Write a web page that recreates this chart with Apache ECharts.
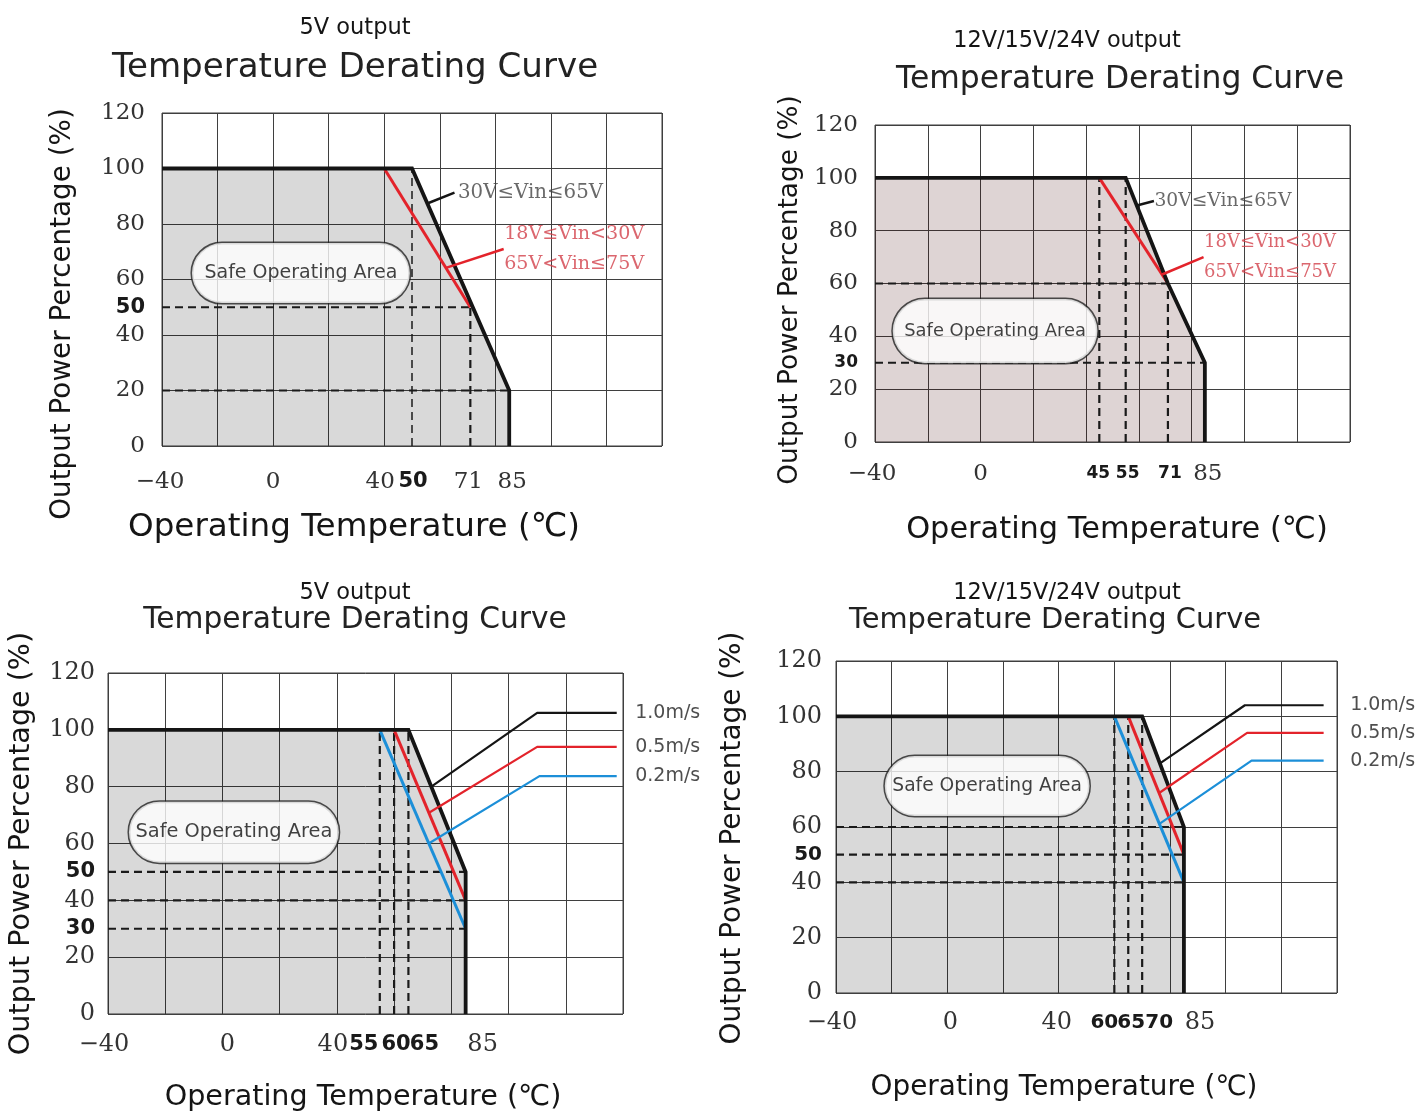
<!DOCTYPE html>
<html>
<head>
<meta charset="utf-8">
<title>Temperature Derating Curve</title>
<script src="https://cdn.jsdelivr.net/npm/echarts@6.0.0/dist/echarts.min.js"></script>
<style>
html,body{margin:0;padding:0;background:#ffffff;}
#chart{width:1418px;height:1115px;}
</style>
</head>
<body>
<div id="chart"></div>
<script>
// ================= DATA =================
const TITLE_TOP = ['5V output', '12V/15V/24V output', '5V output', '12V/15V/24V output'];
const TITLE_MAIN = 'Temperature Derating Curve';
const X_NAME = 'Operating Temperature (℃)';
const Y_NAME = 'Output Power Percentage (%)';
const SOA_TEXT = 'Safe Operating Area';
const VIN_BLACK_TEXT = '30V≤Vin≤65V';
const VIN_RED_TEXT = ['18V≤Vin<30V', '65V<Vin≤75V'];
const AIRFLOW_TEXT = ['1.0m/s', '0.5m/s', '0.2m/s'];

// Panel 1 : 5V output, derating by input voltage
const P1_X_TICKS = [-40, 0, 40, 50, 71, 85];
const P1_Y_TICKS = [0, 20, 40, 50, 60, 80, 100, 120];
const P1_CURVE = [[-40, 100], [50, 100], [85, 20], [85, 0]];
const P1_RED = [[40, 100], [71, 50]];
const P1_DASH_H = [[50, 71], [20, 85]];          // [y, x end]
const P1_DASH_V = [[50, 100], [71, 50]];         // [x, y end]
const P1_LEAD_BLACK = [[55.5, 87.4], [65.3, 91.3]];
const P1_LEAD_RED = [[62.2, 64.2], [83, 71]];
const P1_SOA = [10, 62.3];

// Panel 2 : 12V/15V/24V output, derating by input voltage
const P2_X_TICKS = [-40, 0, 45, 55, 71, 85];
const P2_Y_TICKS = [0, 20, 30, 40, 60, 80, 100, 120];
const P2_CURVE = [[-40, 100], [55, 100], [71, 60], [85, 30], [85, 0]];
const P2_RED = [[45, 100], [71, 60]];
const P2_DASH_H = [[60, 71], [30, 85]];
const P2_DASH_V = [[45, 100], [55, 100], [71, 60]];
const P2_LEAD_BLACK = [[59.2, 89.5], [65.7, 91.2]];
const P2_LEAD_RED = [[68.8, 63.4], [84.5, 70]];
const P2_SOA = [5.5, 42];

// Panel 3 : 5V output, derating by airflow
const P3_X_TICKS = [-40, 0, 40, 55, 60, 65, 85];
const P3_Y_TICKS = [0, 20, 30, 40, 50, 60, 80, 100, 120];
const P3_CURVE = [[-40, 100], [65, 100], [85, 50], [85, 0]];
const P3_RED = [[60, 100], [85, 40]];
const P3_BLUE = [[55, 100], [85, 30]];
const P3_DASH_H = [[50, 85], [40, 85], [30, 85]];
const P3_DASH_V = [[55, 100], [60, 100], [65, 100]];
const P3_AIR_BLACK = [[73, 80], [110, 106], [137.8, 106]];
const P3_AIR_RED = [[72.2, 70.8], [110, 94], [137.8, 94]];
const P3_AIR_BLUE = [[72.1, 60], [110.8, 83.7], [137.8, 83.7]];
const P3_SOA = [4, 64];

// Panel 4 : 12V/15V/24V output, derating by airflow
const P4_X_TICKS = [-40, 0, 40, 60, 65, 70, 85];
const P4_Y_TICKS = [0, 20, 40, 50, 60, 80, 100, 120];
const P4_CURVE = [[-40, 100], [70, 100], [85, 60], [85, 0]];
const P4_RED = [[65, 100], [85, 50]];
const P4_BLUE = [[60, 100], [85, 40]];
const P4_DASH_H = [[60, 85], [50, 85], [40, 85]];
const P4_DASH_V = [[60, 100], [65, 100], [70, 100]];
const P4_AIR_BLACK = [[76.4, 83], [106.9, 104], [135.2, 104]];
const P4_AIR_RED = [[76.1, 72.3], [107.7, 94], [135.2, 94]];
const P4_AIR_BLUE = [[76.2, 61.1], [109.3, 84], [135.2, 84]];
const P4_SOA = [14.3, 74.8];

// ================= LAYOUT & STYLE =================
const SANS = '"DejaVu Sans", sans-serif';
const SERIF = '"DejaVu Serif", serif';
const INK = '#151515';
const RED = '#e3232b';
const BLUE = '#1c8fd8';
const GRID_C = '#3f3f3f';
const RED_TXT = '#d2404a';

const measureCtx = document.createElement('canvas').getContext('2d');
function fit(text, width, family, weight) {
  measureCtx.font = (weight || 'normal') + ' 100px ' + family;
  return +(100 * width / measureCtx.measureText(text).width).toFixed(1);
}

const PANELS = [
  {
    grid: {left: 162, top: 113, width: 500, height: 333},
    xTicks: P1_X_TICKS, yTicks: P1_Y_TICKS,
    xSpec: {'-40': ['n', -2], '40': ['n', -4], '50': ['s', 1], '71': ['n', -2], '85': ['n', 3]},
    ySpec: {'50': ['s', 0]},
    sSize: 21, nSize: 23, xMargin: 21, yMargin: 17,
    title: {x: 350, y1: 23, y2: 63, w1: 111, w2: 486},
    xName: {w: 452, gap: 82, shift: -58}, yName: {w: 412, gap: 99, shift: 34.5},
    curve: P1_CURVE, fill: 'rgba(0,0,0,0.15)',
    colored: [[P1_RED, RED]],
    dashH: P1_DASH_H, dashV: P1_DASH_V, dashVWidth: [1.5, 2.2],
    soa: P1_SOA, soaBox: {w: 218, h: 60, tw: 193},
    vin: {black: P1_LEAD_BLACK, red: P1_LEAD_RED, bw: 145, rw: 140, bDist: 3, rDist: 0}
  },
  {
    grid: {left: 875, top: 125, width: 475, height: 317},
    xTicks: P2_X_TICKS, yTicks: P2_Y_TICKS,
    xSpec: {'-40': ['n', -3], '45': ['s', -1], '55': ['s', 2], '71': ['s', 2], '85': ['n', 3]},
    ySpec: {'30': ['s', 0]},
    sSize: 17, nSize: 23, xMargin: 17, yMargin: 17,
    title: {x: 1062, x2: 1115, y1: 36, y2: 75, w1: 228, w2: 448},
    xName: {w: 422, gap: 88, shift: 4.5}, yName: {w: 390, gap: 85, shift: 6.5},
    curve: P2_CURVE, fill: 'rgba(60,0,0,0.17)',
    colored: [[P2_RED, RED]],
    dashH: P2_DASH_H, dashV: P2_DASH_V, dashVWidth: [2.2, 2.2, 2.2],
    soa: P2_SOA, soaBox: {w: 205, h: 64, tw: 182},
    vin: {black: P2_LEAD_BLACK, red: P2_LEAD_RED, bw: 137, rw: 132, bDist: 0, rDist: 0}
  },
  {
    grid: {left: 108, top: 673, width: 515, height: 341},
    xTicks: P3_X_TICKS, yTicks: P3_Y_TICKS,
    xSpec: {'-40': ['n', -4], '0': ['n', 5], '40': ['n', -4], '55': ['s', -16], '60': ['s', 2], '65': ['s', 16], '85': ['n', 17]},
    ySpec: {'50': ['s', 0], '30': ['s', 0]},
    sSize: 21, nSize: 24, xMargin: 16, yMargin: 13,
    title: {x: 350, y1: 588, y2: 615, w1: 111, w2: 424},
    xName: {w: 397, gap: 84, shift: -2.5}, yName: {w: 423, gap: 86, shift: 0},
    curve: P3_CURVE, fill: 'rgba(0,0,0,0.15)',
    colored: [[P3_RED, RED], [P3_BLUE, BLUE]],
    dashH: P3_DASH_H, dashV: P3_DASH_V, dashVWidth: [2.2, 2.2, 2.2],
    soa: P3_SOA, soaBox: {w: 210, h: 61, tw: 197},
    air: {lines: [P3_AIR_BLACK, P3_AIR_RED, P3_AIR_BLUE], dist: 18, w: 65}
  },
  {
    grid: {left: 836, top: 661, width: 501, height: 332},
    xTicks: P4_X_TICKS, yTicks: P4_Y_TICKS,
    xSpec: {'-40': ['n', -4], '0': ['n', 3], '40': ['n', -2], '60': ['s', -10], '65': ['s', 3], '70': ['s', 17], '85': ['n', 16]},
    ySpec: {'50': ['s', 0]},
    sSize: 20, nSize: 24, xMargin: 15, yMargin: 14,
    title: {x: 1062, x2: 1050, y1: 588, y2: 615, w1: 228, w2: 413},
    xName: {w: 387, gap: 95, shift: -22.5}, yName: {w: 413, gap: 103, shift: 11},
    curve: P4_CURVE, fill: 'rgba(0,0,0,0.15)',
    colored: [[P4_RED, RED], [P4_BLUE, BLUE]],
    dashH: P4_DASH_H, dashV: P4_DASH_V, dashVWidth: [2.2, 2.2, 2.2],
    soa: P4_SOA, soaBox: {w: 205, h: 60, tw: 190},
    air: {lines: [P4_AIR_BLACK, P4_AIR_RED, P4_AIR_BLUE], dist: 26, w: 65}
  }
];

function fmtNum(v) { return v < 0 ? '\u2212' + (-v) : String(v); }

// sentinel (empty) labels at both ends keep ECharts from hiding crowded neighbours
function makeAxisLabel(values, spec, p, margin, lo, hi) {
  const richStyles = {};
  values.forEach((v, k) => {
    const sp = spec[String(v)] || ['n', 0];
    const st = sp[0] === 's'
      ? {fontFamily: SANS, fontWeight: 'bold', fontSize: p.sSize, color: '#1a1a1a'}
      : {fontFamily: SERIF, fontSize: p.nSize, color: '#333333'};
    st.lineHeight = 30;
    if (sp[1] > 0) st.padding = [0, 0, 0, 2 * sp[1]];
    else if (sp[1] < 0) st.padding = [0, -2 * sp[1], 0, 0];
    richStyles['v' + k] = st;
  });
  const cv = values.slice();
  if (cv.indexOf(hi) < 0) cv.push(hi);
  return {
    show: true,
    customValues: cv,
    margin: margin,
    hideOverlap: false,
    showMinLabel: true,
    showMaxLabel: null,
    formatter: function (val) {
      const k = values.indexOf(val);
      if (k < 0) return '';
      return '{v' + k + '|' + fmtNum(val) + '}';
    },
    rich: richStyles
  };
}

const grids = [], xAxes = [], yAxes = [], titles = [], series = [];

PANELS.forEach((p, i) => {
  grids.push(Object.assign({show: true, borderColor: GRID_C, borderWidth: 1, backgroundColor: 'transparent'}, p.grid));

  const xNameSize = fit(X_NAME, p.xName.w, SANS);
  const yNameSize = fit(Y_NAME, p.yName.w, SANS);
  const xs = p.xName.shift, ys = p.yName.shift;

  xAxes.push({
    type: 'value', gridIndex: i, min: -40, max: 140, interval: 20,
    axisLine: {show: false}, axisTick: {show: false},
    splitLine: {show: true, lineStyle: {color: GRID_C, width: 1}},
    axisLabel: makeAxisLabel(p.xTicks, p.xSpec, p, p.xMargin, -40, 140),
    name: X_NAME, nameLocation: 'middle', nameGap: p.xName.gap,
    nameTextStyle: {
      fontFamily: SANS, fontSize: xNameSize, color: INK, verticalAlign: 'middle',
      padding: xs < 0 ? [0, -2 * xs, 0, 0] : [0, 0, 0, 2 * xs]
    }
  });
  yAxes.push({
    type: 'value', gridIndex: i, min: 0, max: 120, interval: 20,
    axisLine: {show: false}, axisTick: {show: false},
    splitLine: {show: true, lineStyle: {color: GRID_C, width: 1}},
    axisLabel: makeAxisLabel(p.yTicks, p.ySpec, p, p.yMargin, 0, 120),
    name: Y_NAME, nameLocation: 'middle', nameGap: p.yName.gap, nameRotate: 90,
    nameTextStyle: {
      fontFamily: SANS, fontSize: yNameSize, color: INK, verticalAlign: 'middle',
      padding: ys > 0 ? [0, 2 * ys, 0, 0] : [0, 0, 0, -2 * ys]
    }
  });

  titles.push({
    text: TITLE_TOP[i], left: p.title.x, top: p.title.y1,
    textAlign: 'center', textVerticalAlign: 'middle',
    textStyle: {fontFamily: SANS, fontWeight: 'normal', color: INK, fontSize: fit(TITLE_TOP[i], p.title.w1, SANS)}
  });
  titles.push({
    text: TITLE_MAIN, left: p.title.x2 || p.title.x, top: p.title.y2,
    textAlign: 'center', textVerticalAlign: 'middle',
    textStyle: {fontFamily: SANS, fontWeight: 'normal', color: '#222', fontSize: fit(TITLE_MAIN, p.title.w2, SANS)}
  });

  const ax = {xAxisIndex: i, yAxisIndex: i};

  // grey safe-operating fill
  series.push(Object.assign({
    type: 'line', name: 'fill' + i, data: p.curve, symbol: 'none', silent: true,
    lineStyle: {width: 0}, areaStyle: {color: p.fill, opacity: 1}, z: 2
  }, ax));

  // dashed reference lines
  p.dashH.forEach(d => {
    series.push(Object.assign({
      type: 'line', data: [[-40, d[0]], [d[1], d[0]]], symbol: 'none', silent: true,
      lineStyle: {color: '#1a1a1a', width: 2.2, type: [8, 5]}, z: 3
    }, ax));
  });
  p.dashV.forEach((d, k) => {
    series.push(Object.assign({
      type: 'line', data: [[d[0], 0], [d[0], d[1]]], symbol: 'none', silent: true,
      lineStyle: {color: '#1a1a1a', width: p.dashVWidth[k], type: [8, 5]}, z: 3
    }, ax));
  });

  // coloured derating curves
  p.colored.forEach(c => {
    series.push(Object.assign({
      type: 'line', data: c[0], symbol: 'none', silent: true,
      lineStyle: {color: c[1], width: 3}, z: 4
    }, ax));
  });

  // main black derating curve
  series.push(Object.assign({
    type: 'line', name: 'curve' + i, data: p.curve, symbol: 'none', silent: true,
    lineStyle: {color: INK, width: 3.8, join: 'miter'}, z: 5
  }, ax));

  // input-voltage annotations
  if (p.vin) {
    const v = p.vin;
    series.push(Object.assign({type: 'line', data: v.black, symbol: 'none', silent: true,
      lineStyle: {color: INK, width: 2.5}, z: 6}, ax));
    series.push(Object.assign({type: 'line', data: v.red, symbol: 'none', silent: true,
      lineStyle: {color: RED, width: 2.5}, z: 6}, ax));
    const bSize = fit(VIN_BLACK_TEXT, v.bw, SERIF);
    const rSize = fit(VIN_RED_TEXT[0], v.rw, SERIF);
    series.push(Object.assign({
      type: 'scatter', clip: false, silent: true, symbolSize: 1, itemStyle: {color: 'rgba(0,0,0,0)'},
      data: [v.black[v.black.length - 1]], z: 7,
      label: {show: true, position: 'right', distance: v.bDist, formatter: VIN_BLACK_TEXT,
        fontFamily: SERIF, fontSize: bSize, color: '#444'}
    }, ax));
    series.push(Object.assign({
      type: 'scatter', clip: false, silent: true, symbolSize: 1, itemStyle: {color: 'rgba(0,0,0,0)'},
      data: [v.red[v.red.length - 1]], z: 7,
      label: {show: true, position: 'right', distance: v.rDist, formatter: VIN_RED_TEXT.join('\n'),
        fontFamily: SERIF, fontSize: rSize, lineHeight: 30, color: RED_TXT, align: 'left'}
    }, ax));
  }

  // airflow annotations
  if (p.air) {
    const cols = [INK, RED, BLUE];
    const aSize = fit(AIRFLOW_TEXT[0], p.air.w, SANS);
    p.air.lines.forEach((ln, k) => {
      series.push(Object.assign({type: 'line', data: ln, symbol: 'none', silent: true,
        lineStyle: {color: cols[k], width: 2.2}, z: 6}, ax));
      series.push(Object.assign({
        type: 'scatter', clip: false, silent: true, symbolSize: 1, itemStyle: {color: 'rgba(0,0,0,0)'},
        data: [ln[ln.length - 1]], z: 7,
        label: {show: true, position: 'right', distance: p.air.dist, formatter: AIRFLOW_TEXT[k],
          fontFamily: SANS, fontSize: aSize, color: '#222'}
      }, ax));
    });
  }

  // Safe Operating Area pill
  const sSize = fit(SOA_TEXT, p.soaBox.tw, SANS);
  const lh = Math.round(sSize * 1.2);
  series.push(Object.assign({
    type: 'scatter', silent: true, symbolSize: 1, itemStyle: {color: 'rgba(0,0,0,0)'},
    data: [p.soa], z: 10,
    label: {
      show: true, position: 'inside', formatter: SOA_TEXT,
      fontFamily: SANS, fontSize: sSize, lineHeight: lh, color: '#111',
      backgroundColor: '#ffffff', borderColor: '#222', borderWidth: 1.5,
      borderRadius: p.soaBox.h / 2,
      padding: [(p.soaBox.h - lh) / 2, (p.soaBox.w - p.soaBox.tw) / 2]
    }
  }, ax));
});

const chart = echarts.init(document.getElementById('chart'), null, {renderer: 'canvas'});
chart.setOption({
  animation: false,
  backgroundColor: '#ffffff',
  title: titles,
  grid: grids,
  xAxis: xAxes,
  yAxis: yAxes,
  series: series
});
</script>
</body>
</html>
